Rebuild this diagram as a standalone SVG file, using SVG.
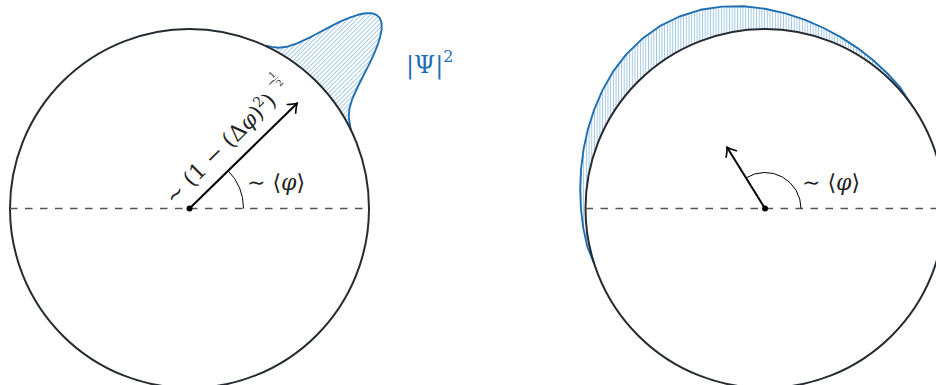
<svg xmlns="http://www.w3.org/2000/svg" width="936" height="385" viewBox="0 0 936 385">
<defs>
<style>
.circ{fill:none;stroke:#262b31;stroke-width:2}
.dist{fill:none;stroke:#1f6fb2;stroke-width:1.9;stroke-linejoin:round}
.dash{fill:none;stroke:#555;stroke-width:1.5;stroke-dasharray:7.5 7.5}
.vec{fill:none;stroke:#000;stroke-width:2}
.ang{fill:none;stroke:#000;stroke-width:1}
.lbl{font-family:"DejaVu Serif","Liberation Serif",serif;fill:#222}
.blue{fill:#1f6fb2}
</style>
<pattern id="hatchNE" patternUnits="userSpaceOnUse" width="3.2" height="10" patternTransform="rotate(45)">
<line x1="0.5" y1="0" x2="0.5" y2="10" stroke="#86b6de" stroke-width="0.8"/>
</pattern>
<pattern id="hatchV" patternUnits="userSpaceOnUse" width="2.7" height="10">
<line x1="0.5" y1="0" x2="0.5" y2="10" stroke="#86b6de" stroke-width="0.8"/>
</pattern>
<marker id="arr" viewBox="-10 -8 12 16" refX="0" refY="0" markerWidth="12" markerHeight="16" markerUnits="userSpaceOnUse" orient="auto">
<path d="M-8,-6 Q-3,-1.5 0,0 Q-3,1.5 -8,6" fill="none" stroke="#000" stroke-width="1.6" stroke-linecap="round"/>
</marker>
</defs>

<g id="left-distribution">
<path fill="url(#hatchNE)" stroke="none" d="M265.4,45.8 L271.9,46.9 L278.7,47.7 L286.6,46.8 L296.5,43.7 L309.0,37.8 L316.3,34.0 L324.2,29.8 L332.6,25.4 L341.2,21.2 L349.7,17.6 L357.9,14.8 L365.3,13.3 L371.6,13.2 L376.5,14.9 L379.9,18.1 L381.6,23.0 L381.6,29.3 L380.2,36.8 L377.6,45.0 L374.1,53.6 L370.1,62.3 L365.9,70.7 L361.8,78.7 L358.1,86.0 L352.4,98.6 L349.4,108.6 L348.8,116.5 L349.7,123.3 L350.8,129.8 A179.5,179.5 0 0 0 265.4,45.8 Z"/>
<path class="dist" d="M265.4,45.8 L271.9,46.9 L278.7,47.7 L286.6,46.8 L296.5,43.7 L309.0,37.8 L316.3,34.0 L324.2,29.8 L332.6,25.4 L341.2,21.2 L349.7,17.6 L357.9,14.8 L365.3,13.3 L371.6,13.2 L376.5,14.9 L379.9,18.1 L381.6,23.0 L381.6,29.3 L380.2,36.8 L377.6,45.0 L374.1,53.6 L370.1,62.3 L365.9,70.7 L361.8,78.7 L358.1,86.0 L352.4,98.6 L349.4,108.6 L348.8,116.5 L349.7,123.3 L350.8,129.8"/>
</g>

<g id="right-distribution">
<path fill="url(#hatchV)" stroke="none" d="M910.2,103.0 L899.9,87.1 L887.0,73.0 L872.9,60.0 L857.6,48.1 L841.2,37.4 L823.6,28.0 L805.1,19.8 L785.5,13.4 L765,8.7 L743.8,6.3 L722.1,6.6 L700.4,9.8 L679.5,16.5 L659.7,26.2 L641.9,39.1 L626.2,54.4 L613.0,71.7 L602.4,90.4 L594.1,109.8 L587.8,129.6 L583.5,149.5 L581.0,169.4 L580.2,189.1 L580.9,208.5 L583.2,227.6 L587.2,246.3 L594.3,264.0 A179.5,179.5 0 0 1 910.2,103.0 Z"/>
<path class="dist" d="M910.2,103.0 L899.9,87.1 L887.0,73.0 L872.9,60.0 L857.6,48.1 L841.2,37.4 L823.6,28.0 L805.1,19.8 L785.5,13.4 L765,8.7 L743.8,6.3 L722.1,6.6 L700.4,9.8 L679.5,16.5 L659.7,26.2 L641.9,39.1 L626.2,54.4 L613.0,71.7 L602.4,90.4 L594.1,109.8 L587.8,129.6 L583.5,149.5 L581.0,169.4 L580.2,189.1 L580.9,208.5 L583.2,227.6 L587.2,246.3 L594.3,264.0"/>
</g>

<g id="left-circle">
<circle class="circ" cx="189.5" cy="208.5" r="179.5"/>
<line class="dash" x1="10" y1="208.5" x2="369" y2="208.5"/>
</g>

<g id="right-circle">
<circle class="circ" cx="765" cy="208.5" r="179.5"/>
<line class="dash" x1="585.5" y1="208.5" x2="945" y2="208.5"/>
</g>

<g id="connectors">
<path class="ang" d="M243.5,208.5 A54,54 0 0 0 227.7,170.3"/>
<line class="vec" x1="189.5" y1="208.5" x2="297.2" y2="103.2" marker-end="url(#arr)"/>
<circle cx="189.5" cy="208.5" r="3" fill="#000"/>
<path class="ang" d="M801,208.5 A36,36 0 0 0 746,177.9"/>
<line class="vec" x1="765" y1="208.5" x2="727" y2="147.2" marker-end="url(#arr)"/>
<circle cx="765" cy="208.5" r="3" fill="#000"/>
</g>

<g id="labels">
<text class="lbl blue" x="406" y="73" font-size="24">|Ψ|<tspan font-size="16" dy="-11">2</tspan></text>
<text class="lbl" x="247" y="190" font-size="22">∼ ⟨<tspan font-style="italic">φ</tspan>⟩</text>
<text class="lbl" x="802" y="190" font-size="22">∼ ⟨<tspan font-style="italic">φ</tspan>⟩</text>
<g transform="translate(189.5,208.5) rotate(-45)">
<text class="lbl" x="-9" y="-13" font-size="22">∼ (1 − (Δ<tspan font-style="italic">φ</tspan>)<tspan font-size="14" dy="-9">2</tspan><tspan dy="9">)</tspan></text>
<text class="lbl" x="143" y="-28" font-size="10">−</text>
<text class="lbl" x="150" y="-33" font-size="9">1</text>
<line x1="149.5" y1="-30.5" x2="156" y2="-30.5" stroke="#222" stroke-width="0.6"/>
<text class="lbl" x="150" y="-22" font-size="9">2</text>
</g>
</g>
</svg>
